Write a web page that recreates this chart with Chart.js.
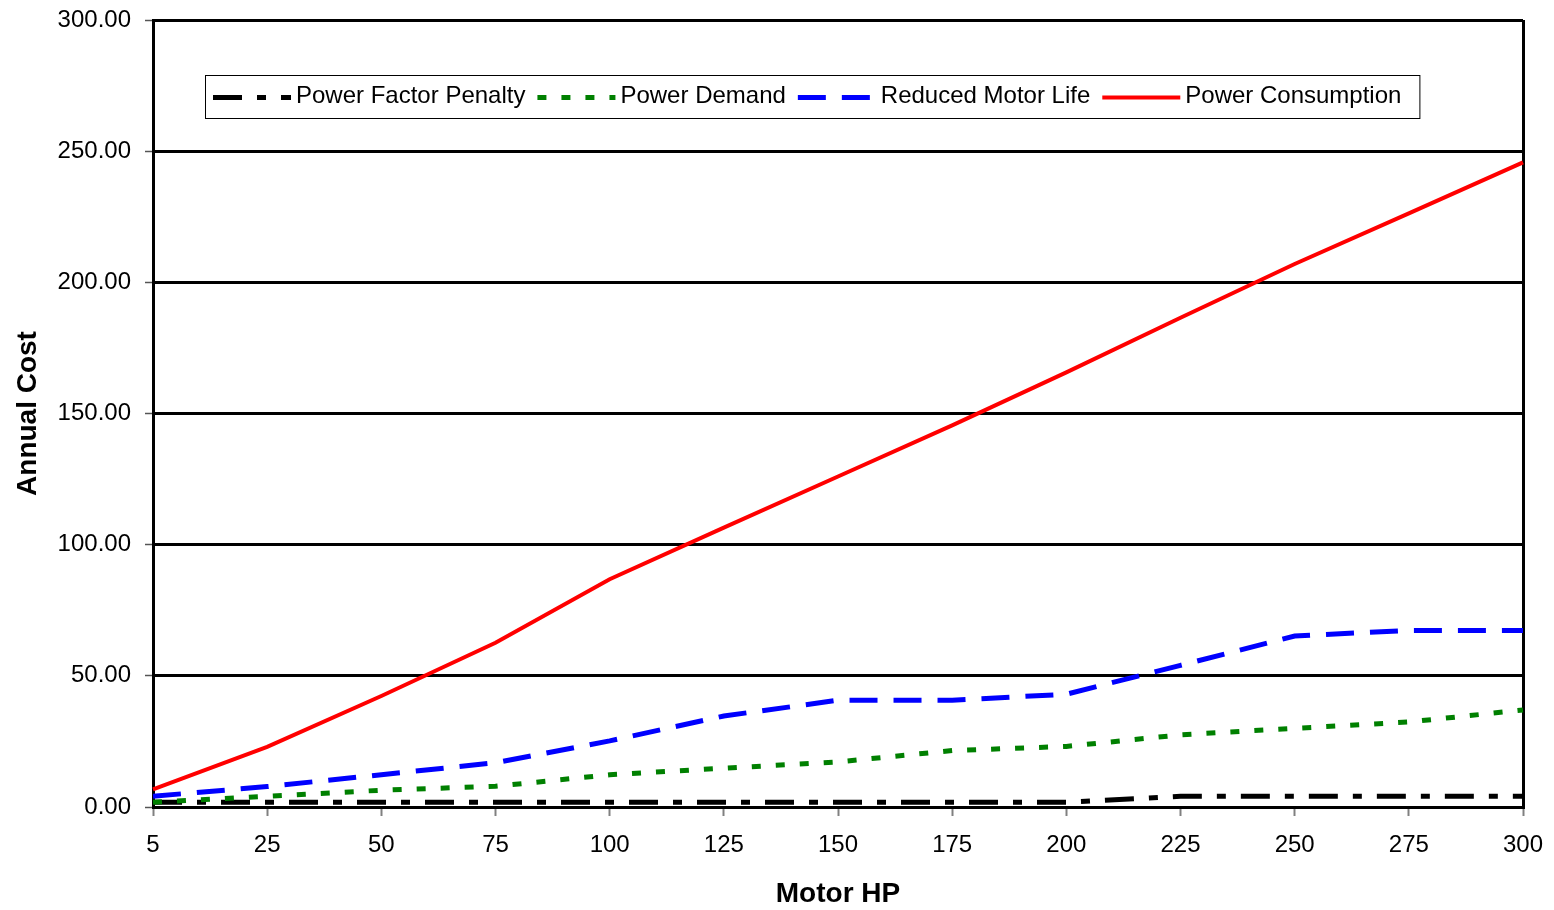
<!DOCTYPE html>
<html>
<head>
<meta charset="utf-8">
<script src="https://cdn.jsdelivr.net/npm/chart.js@4"></script>
<style>
  html, body { margin: 0; padding: 0; background: #ffffff; }
  #c { display: block; }
</style>
</head>
<body>
<canvas id="c" width="1554" height="910"></canvas>
<script>
// ---- Data ----
const categories = ['5','25','50','75','100','125','150','175','200','225','250','275','300'];
const powerFactorPenalty = [1.8, 1.8, 1.8, 1.8, 1.8, 1.8, 1.8, 1.8, 1.8, 4.1, 4.1, 4.1, 4.1];
const powerDemand        = [1.8, 4.1, 6.4, 7.9, 12.3, 14.8, 17.2, 21.5, 23.1, 27.5, 30.0, 32.4, 37.0];
const reducedMotorLife   = [4.1, 7.8, 12.3, 16.9, 25.2, 34.7, 40.7, 40.7, 43.0, 54.0, 65.2, 67.3, 67.3];
const powerConsumption   = [6.7, 22.9, 42.3, 62.6, 86.8, 106.5, 126.0, 145.5, 165.7, 186.5, 207.0, 226.3, 245.7];
const seriesNames = ['Power Factor Penalty', 'Power Demand', 'Reduced Motor Life', 'Power Consumption'];
const yMin = 0, yMax = 300, yStep = 50;
const xTitle = 'Motor HP';
const yTitle = 'Annual Cost';

const FONT = "'Liberation Sans', Arial, sans-serif";

// Legend drawn as a framed box inside the plot area
const boxLegend = {
  id: 'boxLegend',
  afterDraw(chart, args, o) {
    const ctx = chart.ctx;
    const ds = chart.data.datasets;
    ctx.save();
    ctx.font = o.fontSize + 'px ' + FONT;
    let total = o.padLeft;
    ds.forEach((d, i) => {
      total += o.sample + o.textGap + ctx.measureText(d.label).width + (i < ds.length - 1 ? o.itemGap : o.padRight);
    });
    ctx.fillStyle = '#ffffff';
    ctx.fillRect(o.left, o.top, total, o.height);
    ctx.strokeStyle = '#000000';
    ctx.lineWidth = 1;
    ctx.strokeRect(o.left + 0.5, o.top + 0.5, total, o.height);
    const cy = o.top + o.height / 2;
    let x = o.left + o.padLeft;
    ds.forEach((d) => {
      ctx.save();
      ctx.strokeStyle = d.borderColor;
      ctx.lineWidth = d.borderWidth;
      ctx.lineCap = 'butt';
      ctx.setLineDash(d.borderDash || []);
      ctx.beginPath();
      ctx.moveTo(x, cy + o.lineDy);
      ctx.lineTo(x + o.sample, cy + o.lineDy);
      ctx.stroke();
      ctx.restore();
      x += o.sample + o.textGap;
      ctx.fillStyle = '#000000';
      ctx.textBaseline = 'middle';
      ctx.textAlign = 'left';
      ctx.fillText(d.label, x, cy + o.textDy);
      x += ctx.measureText(d.label).width + o.itemGap;
    });
    ctx.restore();
  }
};

const lastIdx = categories.length - 1;

new Chart(document.getElementById('c'), {
  type: 'line',
  data: {
    labels: categories,
    datasets: [
      { label: seriesNames[0], data: powerFactorPenalty, borderColor: '#000000', borderWidth: 5, borderDash: [29, 15, 9, 15], order: 4 },
      { label: seriesNames[1], data: powerDemand, borderColor: '#008000', borderWidth: 5, borderDash: [9, 15], order: 3 },
      { label: seriesNames[2], data: reducedMotorLife, borderColor: '#0000ff', borderWidth: 5, borderDash: [28, 16], order: 2 },
      { label: seriesNames[3], data: powerConsumption, borderColor: '#ff0000', borderWidth: 4, borderDash: [], order: 1 }
    ].map(d => Object.assign(d, { fill: false, tension: 0, pointRadius: 0, pointHoverRadius: 0, borderCapStyle: 'butt', borderJoinStyle: 'miter' }))
  },
  options: {
    responsive: false,
    devicePixelRatio: 1,
    animation: false,
    events: [],
    layout: { padding: { left: 0, right: 31, top: 20, bottom: 0 } },
    plugins: {
      legend: { display: false },
      tooltip: { enabled: false },
      boxLegend: { left: 205, top: 75, height: 43, padLeft: 8, padRight: 18, sample: 78, textGap: 5, itemGap: 12, fontSize: 24, lineDy: 1, textDy: 0 }
    },
    scales: {
      x: {
        type: 'category',
        offset: false,
        grid: {
          display: true,
          drawOnChartArea: true,
          color: (c) => c.index === lastIdx ? '#000000' : 'rgba(0,0,0,0)',
          lineWidth: 3,
          drawTicks: true,
          tickLength: 9,
          tickColor: '#808080',
          tickWidth: 2
        },
        border: { display: true, color: '#000000', width: 3 },
        ticks: { color: '#000000', font: { family: FONT, size: 24 }, padding: 15, maxRotation: 0, autoSkip: false },
        title: { display: true, text: xTitle, color: '#000000', font: { family: FONT, size: 28, weight: 'bold', lineHeight: 1.1 }, padding: { top: 0, bottom: 0 } },
        afterFit: (s) => { s.height = 103; s.paddingLeft = 0; s.paddingRight = 0; }
      },
      y: {
        type: 'linear',
        min: yMin,
        max: yMax,
        grid: {
          display: true,
          color: '#000000',
          lineWidth: 3,
          drawTicks: true,
          tickLength: 8,
          tickColor: '#555555',
          tickWidth: 1.5
        },
        border: { display: true, color: '#000000', width: 3 },
        ticks: { stepSize: yStep, color: '#000000', font: { family: FONT, size: 24 }, padding: 14, callback: (v) => Number(v).toFixed(2) },
        title: { display: true, text: yTitle, color: '#000000', font: { family: FONT, size: 28, weight: 'bold' }, padding: { top: 11, bottom: 0 } },
        afterFit: (s) => { s.width = 153; s.paddingTop = 0; s.paddingBottom = 0; }
      }
    }
  },
  plugins: [boxLegend]
});
</script>
</body>
</html>
